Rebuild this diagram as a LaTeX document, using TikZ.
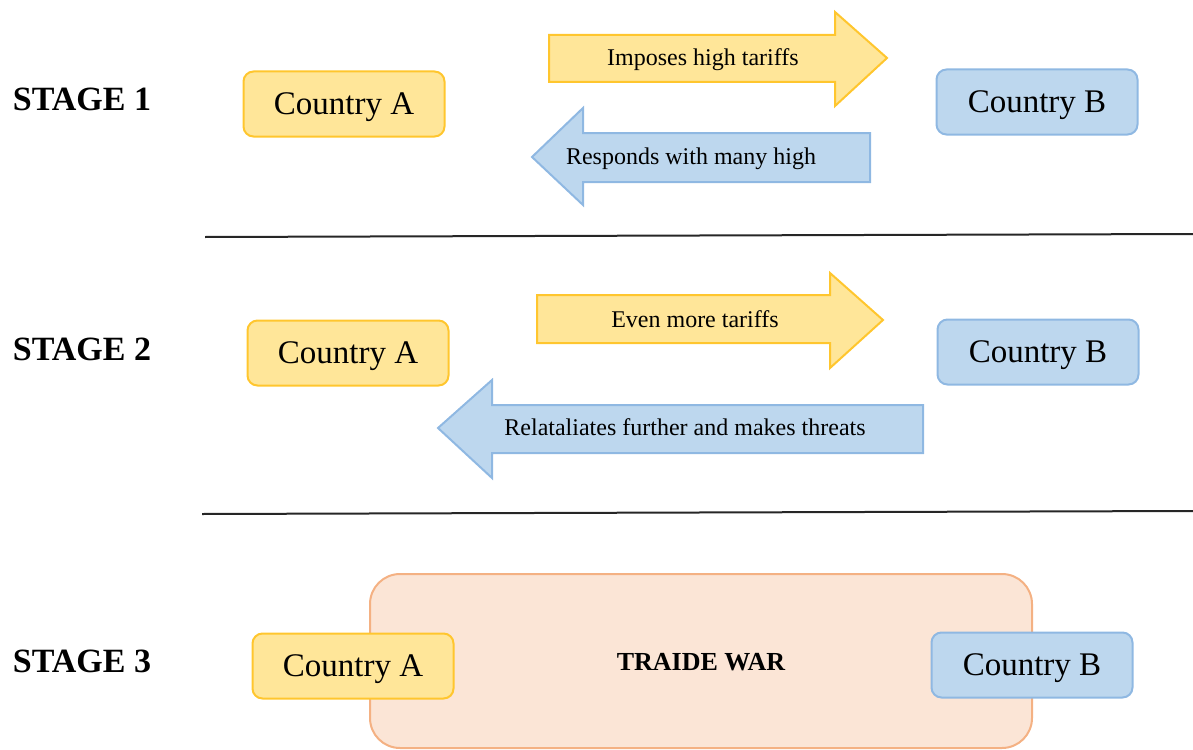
\documentclass[tikz,border=0pt]{standalone}
\usepackage{fontspec}
\setmainfont{Liberation Serif}
\definecolor{yfill}{HTML}{FFE699}
\definecolor{ydraw}{HTML}{FFC62E}
\definecolor{bfill}{HTML}{BDD7EE}
\definecolor{bdraw}{HTML}{8FB8E2}
\definecolor{ofill}{HTML}{FBE5D6}
\definecolor{odraw}{HTML}{F4B183}
\tikzset{
  stagelbl/.style={text height=22.5pt, text depth=0pt, font=\fontsize{34}{40}\selectfont\bfseries, inner sep=0pt},
  ctrybox/.style={text height=21.8pt, text depth=0pt, rounded corners=10pt, line width=2pt, minimum width=201pt, minimum height=65pt, inner sep=0pt, font=\fontsize{33}{38}\selectfont},
  ctryA/.style={ctrybox, fill=yfill, draw=ydraw},
  ctryB/.style={ctrybox, fill=bfill, draw=bdraw},
  yarrow/.style={fill=yfill, draw=ydraw, line width=2pt, line join=miter},
  barrow/.style={fill=bfill, draw=bdraw, line width=2pt, line join=miter},
  arrtxt/.style={text height=15.9pt, text depth=0pt, font=\fontsize{24}{28}\selectfont, inner sep=0pt},
  wartxt/.style={text height=17.2pt, text depth=0pt, font=\fontsize{26}{30}\selectfont\bfseries, inner sep=0pt},
  sep/.style={line width=2pt, draw=black!85},
}
\begin{document}
\begin{tikzpicture}[x=1pt,y=-1pt]
\useasboundingbox (0,0) rectangle (1193,749);
% separators
\coordinate (s1a) at (205,237); \coordinate (s1b) at (1193,234);
\coordinate (s2a) at (202,514); \coordinate (s2b) at (1193,511);
\draw[sep] (s1a) -- (s1b);
\draw[sep] (s2a) -- (s2b);
% stage labels
\node[stagelbl] (st1) at (82,99) {STAGE 1};
\node[stagelbl] (st2) at (82,349) {STAGE 2};
\node[stagelbl] (st3) at (82,661) {STAGE 3};
% stage 1
\node[ctryA] (a1) at (344,104) {Country A};
\node[ctryB] (b1) at (1037,102) {Country B};
\draw[yarrow] (549,35) -- (835,35) -- (835,12) -- (887,58) -- (835,106) -- (835,82) -- (549,82) -- cycle;
\node[arrtxt] (t1) at (703,58) {Imposes high tariffs};
\draw[barrow] (870,133) -- (583,133) -- (583,108) -- (532,157) -- (583,205) -- (583,182) -- (870,182) -- cycle;
\node[arrtxt] (t2) at (691,157) {Responds with many high};
% stage 2
\node[ctryA] (a2) at (348,353) {Country A};
\node[ctryB] (b2) at (1038,352) {Country B};
\draw[yarrow] (537,295) -- (830,295) -- (830,273) -- (883,320) -- (830,368) -- (830,343) -- (537,343) -- cycle;
\node[arrtxt] (t3) at (695,320) {Even more tariffs};
\draw[barrow] (923,405) -- (492,405) -- (492,380) -- (438,428) -- (492,478) -- (492,453) -- (923,453) -- cycle;
\node[arrtxt] (t4) at (685,428) {Relataliates further and makes threats};
% stage 3
\draw[fill=ofill, draw=odraw, line width=2pt, rounded corners=30pt] (370,574) rectangle (1032,748);
\node[wartxt] (tw) at (701,662) {TRAIDE WAR};
\node[ctryA] (a3) at (353,666) {Country A};
\node[ctryB] (b3) at (1032,665) {Country B};
\end{tikzpicture}
\end{document}
